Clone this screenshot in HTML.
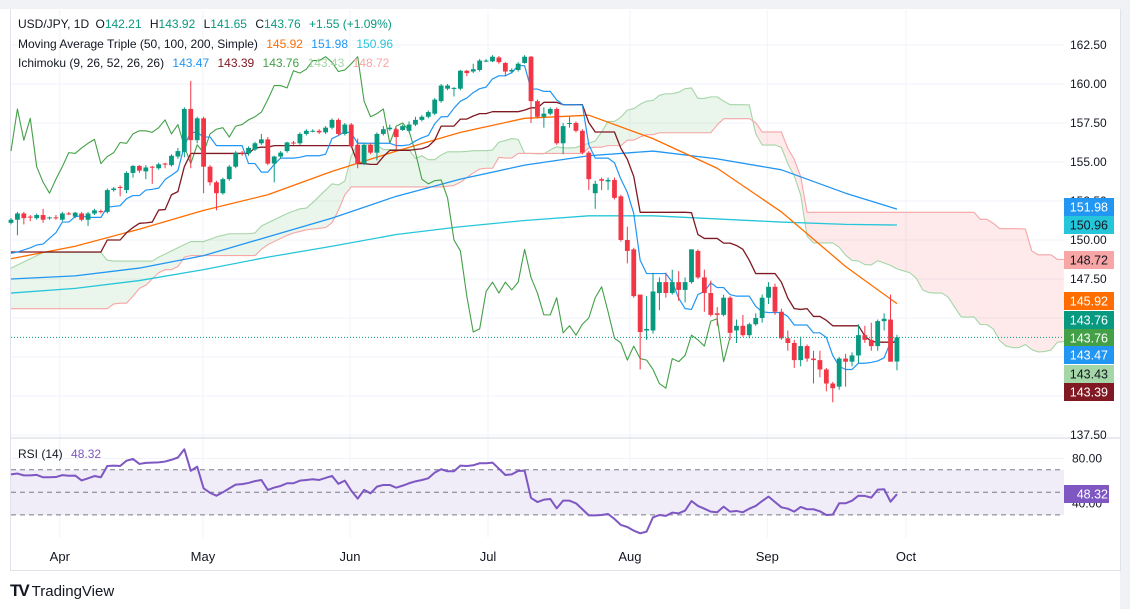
<!DOCTYPE html>
<html><head><meta charset="utf-8">
<style>
html,body{margin:0;padding:0;background:#fff;}
body{width:1130px;height:609px;position:relative;overflow:hidden;font-family:"Liberation Sans",sans-serif;}
#topband{position:absolute;left:0;top:0;width:1130px;height:9px;background:#f0f2f6;}
#rightband{position:absolute;left:1120px;top:0;width:10px;height:609px;background:#f0f2f6;}
#frame{position:absolute;left:10px;top:9px;width:1109px;height:561px;border:1px solid #e0e3eb;border-top:none;box-sizing:content-box;}
svg{position:absolute;left:0;top:0;}
.leg{position:absolute;left:18px;font-size:12px;color:#131722;white-space:nowrap;}
.leg span{margin-left:5px;}
#logo{position:absolute;left:10px;top:581px;font-size:15px;color:#131722;}
</style></head>
<body>
<div id="topband"></div>
<div id="rightband"></div>
<div id="frame"></div>
<svg id="chart" width="1130" height="609"></svg>
<div class="leg" style="top:17px">USD/JPY, 1D <span style="margin-left:3px">O<b style="font-weight:normal;color:#089981">142.21</b></span> <span>H<b style="font-weight:normal;color:#089981">143.92</b></span> <span>L<b style="font-weight:normal;color:#089981">141.65</b></span> <span>C<b style="font-weight:normal;color:#089981">143.76</b></span> <span style="color:#089981">+1.55 (+1.09%)</span></div>
<div class="leg" style="top:37px">Moving Average Triple (50, 100, 200, Simple) <span style="color:#ff6d00">145.92</span> <span style="color:#2196f3">151.98</span> <span style="color:#26c6da">150.96</span></div>
<div class="leg" style="top:56px">Ichimoku (9, 26, 52, 26, 26) <span style="color:#2196f3">143.47</span> <span style="color:#801922">143.39</span> <span style="color:#43a047">143.76</span> <span style="color:#a5d6a7">143.43</span> <span style="color:#f7a5a5">148.72</span></div>
<div class="leg" style="top:447px;left:18px">RSI (14) <span style="color:#7e57c2">48.32</span></div>
<div id="logo"><b style="font-size:17px;letter-spacing:-2px">TV</b> TradingView</div>
<script>
const O=[151.1,151.3,151.7,151.5,151.4,151.6,151.4,151.45,151.3,151.7,151.5,151.7,151.3,151.7,151.85,151.8,153.2,153.4,153.2,154.3,154.75,154.4,154.7,154.6,154.9,154.8,155.35,155.65,158.4,156.4,157.8,154.7,153.7,153.0,153.9,154.7,155.6,155.55,155.8,156.2,156.45,154.9,155.35,155.7,156.25,
156.2,156.8,157.0,157.0,156.9,157.2,157.7,156.8,157.4,156.1,154.9,156.1,155.6,156.8,157.1,157.1,157.05,157.0,157.4,157.7,157.9,158.1,158.9,159.7,159.7,159.7,160.85,160.8,160.9,161.5,161.45,161.7,161.35,160.8,160.9,161.35,161.75,158.9,157.9,158.1,158.4,156.2,157.5,157.5,157.0,155.6,
153.0,153.9,153.75,153.85,152.8,150.0,149.4,146.5,144.2,144.2,146.6,147.3,146.6,147.3,146.8,147.3,149.3,147.6,146.6,145.3,145.2,146.3,144.2,144.5,143.9,144.6,145.0,146.3,147.0,145.4,143.7,143.4,142.3,143.2,142.4,142.3,141.7,140.8,140.6,142.4,142.2,142.6,143.9,143.6,143.2,144.8,144.9,142.21];
const H=[151.4,151.8,151.8,151.6,151.7,152.0,151.5,151.6,151.8,151.8,151.8,151.8,151.8,152.0,151.95,153.3,153.4,153.5,154.4,154.8,154.8,154.8,154.75,154.95,154.95,155.5,155.9,158.5,160.2,157.9,157.9,154.8,153.8,154.0,154.8,155.7,155.7,156.0,156.3,156.8,156.6,155.4,155.7,156.3,156.35,
156.9,157.1,157.1,157.1,157.3,157.8,157.8,157.5,157.5,156.5,156.2,156.2,156.9,157.3,157.4,157.2,157.4,157.6,157.9,158.0,158.3,159.1,160.0,160.0,159.8,160.9,160.9,161.3,161.6,161.6,161.85,161.8,161.4,161.0,161.4,161.85,161.8,159.0,158.5,158.5,158.5,157.5,157.9,157.6,157.1,155.7,
153.8,154.0,154.0,154.0,152.9,150.85,149.5,146.5,146.4,147.9,147.6,147.9,148.1,148.0,147.6,149.4,149.4,148.1,147.4,145.7,146.5,146.4,144.9,145.2,144.7,145.3,146.5,147.3,147.2,145.6,144.2,143.6,143.8,143.3,142.9,142.9,141.8,140.9,142.5,142.7,142.8,144.6,144.5,144.7,144.9,145.3,146.5,143.92];
const L=[151.0,150.3,151.0,151.2,151.3,151.1,151.3,151.3,151.2,151.6,151.4,151.2,150.9,151.6,151.7,151.7,153.1,152.8,153.0,154.0,154.3,153.9,153.6,154.5,154.6,154.7,155.2,155.3,154.6,156.2,153.0,153.5,151.9,152.9,153.8,154.6,155.4,155.4,155.7,156.1,154.8,153.7,155.2,155.6,156.1,
156.1,156.7,156.9,156.8,156.8,157.1,156.7,156.7,155.9,154.6,154.8,155.5,155.1,156.7,157.0,155.8,157.0,156.9,157.3,157.6,157.8,158.0,158.8,159.6,159.2,159.6,160.5,160.7,160.8,161.4,161.4,161.3,160.5,160.7,160.8,161.3,157.5,157.8,157.2,158.0,156.1,155.5,157.2,156.9,155.5,153.2,
152.0,153.2,153.2,152.6,149.9,148.5,146.3,141.7,143.6,144.0,145.5,146.3,146.5,146.1,146.0,147.2,147.5,145.4,145.1,144.5,145.1,143.6,143.4,143.8,143.7,144.5,144.7,145.9,145.2,143.6,142.9,141.8,141.9,142.2,140.8,141.2,140.3,139.6,140.4,140.6,141.9,142.1,143.4,142.9,142.9,144.2,142.2,141.65];
const C=[151.3,151.7,151.4,151.45,151.6,151.3,151.45,151.4,151.7,151.65,151.75,151.3,151.7,151.9,151.8,153.2,153.3,153.35,154.3,154.75,154.45,154.65,154.65,154.85,154.85,155.4,155.7,158.4,156.4,157.8,154.7,153.7,153.0,153.9,154.7,155.6,155.55,155.9,156.2,156.45,154.9,155.35,155.6,156.25,156.2,
156.8,157.0,157.0,156.9,157.2,157.7,156.8,157.4,156.0,154.9,156.1,155.6,156.8,157.1,157.2,156.6,157.3,157.4,157.7,157.9,158.2,159.0,159.9,159.9,159.75,160.85,160.7,160.95,161.5,161.5,161.75,161.4,160.8,160.9,161.3,161.75,158.9,157.9,158.1,158.4,156.2,157.3,157.5,157.0,155.6,153.9,
153.6,153.8,153.85,152.7,150.0,149.3,146.4,144.1,144.3,146.7,147.3,146.6,147.3,146.8,147.3,149.4,147.6,146.6,145.2,145.2,146.3,144.05,144.5,143.9,144.6,145.0,146.3,147.0,145.4,143.7,143.4,142.3,143.2,142.4,142.3,141.7,140.8,140.5,142.4,142.2,142.6,143.9,143.6,143.2,144.8,144.95,142.2,143.76];
const earlyTenkan=[149.15,149.23,149.36,149.5,149.68,149.74,150.11,150.47];
const earlyKijun=[149.23,149.23,149.23,149.23,149.23,149.23,149.23,149.23,149.23,149.23,149.23,149.23,149.23,149.23,149.23,150.0,150.0,150.0,150.47,150.8,151.07,151.1,151.15,151.92,151.95];
const earlySpanA=[148.2,148.4,148.6,148.8,149.0,149.2,149.2,149.2,149.2,149.2,149.2,149.2,149.2,149.2,149.2,148.7,148.65,148.65,148.65,148.65,148.65,148.65,148.65,148.9,149.1,149.3,149.5,149.7,149.9,149.9,149.9,150.05,150.2,150.3,150.4,150.4,150.4,150.4,150.45,150.9,151.1,151.3,151.5,151.7,151.85,152.0,152.05,152.4,152.8,153.2,153.6];
const earlySpanB=[145.6,145.6,145.6,145.6,145.6,145.6,145.6,145.6,145.6,145.6,145.6,145.6,145.6,145.6,145.6,145.6,145.9,145.95,145.95,146.4,146.9,147.1,147.5,147.9,148.1,148.1,148.3,148.9,149.0,149.0,149.0,149.0,149.0,149.0,149.0,149.0,149.0,149.0,149.0,149.4,149.7,149.9,150.1,150.3,150.45,150.55,150.65,150.7,150.75,150.8,151.1,151.9,152.9,153.4,153.4,153.4,153.4,153.4,153.4,153.4,153.4,153.4,153.4,153.4,153.4,153.4,153.4,153.4,153.45,153.5,153.7,154.0,154.3,154.55,154.6,154.6,155.3];
const maBars=[0,10,20,30,40,50,60,70,80,90,100,110,120,130,138];
const ma50=[148.8,149.6,150.7,151.9,152.9,154.4,155.7,156.9,157.8,158.0,156.5,154.6,151.8,148.3,145.92];
const ma100=[147.5,147.7,148.2,149.0,150.2,151.4,152.8,153.9,154.8,155.4,155.7,155.2,154.5,153.0,151.98];
const ma200=[146.6,146.9,147.4,148.1,148.9,149.6,150.35,150.85,151.25,151.55,151.55,151.35,151.15,151.0,150.96];
const rsi=[65.9,66.6,65.0,65.0,65.4,63.3,63.3,63.5,65.2,64.6,64.8,60.5,62.4,64.4,63.3,73.3,73.6,73.3,78.0,79.5,75.1,76.0,76.3,76.5,77.2,78.8,80.8,88.1,69.0,72.7,53.5,49.5,47.0,50.0,53.5,56.8,57.2,58.3,59.9,60.9,52.1,54.2,55.6,58.0,58.0,60.3,60.9,61.5,60.9,62.7,64.5,57.5,60.3,51.5,44.4,52.1,49.1,55.0,56.5,56.5,54.1,55.9,58.0,59.7,60.9,62.4,67.4,70.4,68.6,68.6,73.6,
73.3,73.9,75.7,75.7,76.3,70.9,65.3,65.9,68.9,69.2,45.0,41.4,43.5,44.1,35.8,42.6,42.6,40.3,35.0,29.6,29.6,29.9,30.8,26.4,21.1,19.3,16.1,13.7,15.2,27.9,29.9,29.1,32.0,31.4,33.8,42.3,37.9,35.5,32.9,32.3,37.3,32.9,33.5,32.3,35.5,37.9,42.3,46.2,41.4,36.7,35.5,32.9,37.0,35.0,35.0,33.2,29.9,30.2,40.3,40.3,42.6,47.0,46.8,45.3,52.4,52.7,41.7,48.32];
const priceTicks=[162.5,160.0,157.5,155.0,152.5,150.0,147.5,145.0,142.5,140.0,137.5];
const priceTickLabels=["162.50","160.00","157.50","155.00","152.50","150.00","147.50","","","","137.50"];
const monthLabels=["Apr","May","Jun","Jul","Aug","Sep","Oct"];
const monthBars=[7.6,29.9,52.8,74.3,96.4,117.8,139.4];
const rsiTicks=[80,40];
const rsiTickLabels=["80.00","40.00"];

const svg=document.getElementById('chart');
const NS='http://www.w3.org/2000/svg';
const X0=11,DX=6.42,PX_RIGHT=1064;
const xOf=b=>X0+DX*b;
const yOf=p=>45+(162.5-p)*15.6;
const yR=v=>492.3-(v-50)*1.13;
function mk(tag,attrs,parent){const e=document.createElementNS(NS,tag);for(const k in attrs)e.setAttribute(k,attrs[k]);(parent||svg).appendChild(e);return e;}
const N=C.length;
const tenkan=[],kijun=[];
for(let i=0;i<N;i++){
  if(i<8)tenkan.push(earlyTenkan[i]);else{let h=-1e9,l=1e9;for(let k=i-8;k<=i;k++){h=Math.max(h,H[k]);l=Math.min(l,L[k]);}tenkan.push((h+l)/2);}
  if(i<25)kijun.push(earlyKijun[i]);else{let h=-1e9,l=1e9;for(let k=i-25;k<=i;k++){h=Math.max(h,H[k]);l=Math.min(l,L[k]);}kijun.push((h+l)/2);}
}
const spanA=[],spanB=[];
for(let j=0;j<N+26;j++){
  const i=j-26;
  spanA.push(j<51?earlySpanA[j]:(tenkan[i]+kijun[i])/2);
  if(j<77)spanB.push(earlySpanB[j]);else{let h=-1e9,l=1e9;for(let k=i-51;k<=i;k++){h=Math.max(h,H[k]);l=Math.min(l,L[k]);}spanB.push((h+l)/2);}
}
const grid=mk('g',{});


priceTicks.forEach(p=>{const ln=mk('line',{x1:11,x2:PX_RIGHT,y1:yOf(p),y2:yOf(p),stroke:'#f0f3fa','stroke-width':1},grid);});
rsiTicks.forEach(v=>{const ln=mk('line',{x1:11,x2:PX_RIGHT,y1:yR(v),y2:yR(v),stroke:'#f0f3fa','stroke-width':1},grid);});
monthBars.forEach(b=>{const ln=mk('line',{x1:xOf(b),x2:xOf(b),y1:10,y2:538,stroke:'#f0f3fa','stroke-width':1},grid);});
const sep=mk('line',{x1:11,x2:1120,y1:438,y2:438,stroke:'#e0e3eb','stroke-width':1.5});


const cloud=mk('g',{});


for(let j=0;j<spanA.length-1;j++){
  const up=(spanA[j]+spanA[j+1])>=(spanB[j]+spanB[j+1]);
  const pg=mk('polygon',{points:`${xOf(j)},${yOf(spanA[j])} ${xOf(j+1)},${yOf(spanA[j+1])} ${xOf(j+1)},${yOf(spanB[j+1])} ${xOf(j)},${yOf(spanB[j])}`,fill:up?'rgba(67,160,71,0.11)':'rgba(242,54,69,0.11)',stroke:'none'},cloud);
  
  
}
function line(vals,startBar,color,name,width,yf){
  const pts=vals.map((v,k)=>`${xOf(startBar+k)},${(yf||yOf)(v)}`).join(' ');
  const pl=mk('polyline',{points:pts,fill:'none',stroke:color,'stroke-width':width||1.2,'stroke-linejoin':'round'});
  
  
  return pl;
}
line(spanA,0,'#a5d6a7','senkou-span-a',1.1);
line(spanB,0,'#f7a5a5','senkou-span-b',1.1);
function maLine(vals,color,name){
  const pts=vals.map((v,k)=>`${xOf(maBars[k])},${yOf(v)}`).join(' ');
  const pl=mk('polyline',{points:pts,fill:'none',stroke:color,'stroke-width':1.3,'stroke-linejoin':'round'});
  
  
}
maLine(ma200,'#26c6da','ma-200-line');
maLine(ma100,'#2196f3','ma-100-line');
maLine(ma50,'#ff6d00','ma-50-line');
line(C.slice(26),0,'#43a047','chikou-span',1.1);
line(kijun,0,'#801922','kijun-sen',1.3);
line(tenkan,0,'#2196f3','tenkan-sen',1.2);
const cg=mk('g',{});


for(let i=0;i<N;i++){
  const col=C[i]>=O[i]?'#089981':'#f23645';
  const x=xOf(i);
  const w=mk('line',{x1:x,x2:x,y1:yOf(H[i]),y2:yOf(L[i]),stroke:col,'stroke-width':1},cg);
  
  
  const t=yOf(Math.max(O[i],C[i])),bt=yOf(Math.min(O[i],C[i]));
  const r=mk('rect',{x:x-2.4,y:t,width:4.8,height:Math.max(1,bt-t),fill:col},cg);
  
  
}
const lp=mk('line',{x1:11,x2:PX_RIGHT,y1:yOf(C[N-1]),y2:yOf(C[N-1]),stroke:'#089981','stroke-width':1,'stroke-dasharray':'1 2'});


const band=mk('rect',{x:11,y:yR(70),width:PX_RIGHT-11,height:yR(30)-yR(70),fill:'#f0ecf8'});


[70,50,30].forEach(v=>{const d=mk('line',{x1:11,x2:PX_RIGHT,y1:yR(v),y2:yR(v),stroke:'#787b86','stroke-width':1,'stroke-dasharray':'5 4'});});
line(rsi,0,'#7e57c2','rsi-line',2,yR);
const ax=mk('g',{'font-family':'Liberation Sans, sans-serif','font-size':12,fill:'#131722'});


priceTicks.forEach((p,k)=>{if(!priceTickLabels[k])return;const t=mk('text',{x:1070,y:yOf(p)+4},ax);t.textContent=priceTickLabels[k];});
rsiTicks.forEach((v,k)=>{const t=mk('text',{x:1072,y:yR(v)+4},ax);t.textContent=rsiTickLabels[k];});
monthLabels.forEach((m,k)=>{const t=mk('text',{x:xOf(monthBars[k]),y:561,'text-anchor':'middle','font-size':13},ax);t.textContent=m;});
const badges=[["151.98",207,'#2196f3','#fff'],["150.96",225,'#26c6da','#131722'],["148.72",260,'#f7a5a5','#131722'],["145.92",301,'#ff6d00','#fff'],["143.76",320,'#089981','#fff'],["143.76",338,'#43a047','#fff'],["143.47",355,'#2196f3','#fff'],["143.43",374,'#a5d6a7','#131722'],["143.39",392,'#801922','#fff'],["48.32",494,'#7e57c2','#fff']];
badges.forEach(b=>{
  const g=mk('g',{});
  
  
  mk('rect',{x:1064,y:b[1]-9,width:b[0].length>5?50:45,height:18,fill:b[2]},g);
  const t=mk('text',{x:1108,y:b[1]+4.5,'text-anchor':'end','font-family':'Liberation Sans, sans-serif','font-size':12.5,fill:b[3]},g);
  t.textContent=b[0];
});
</script>
</body></html>
